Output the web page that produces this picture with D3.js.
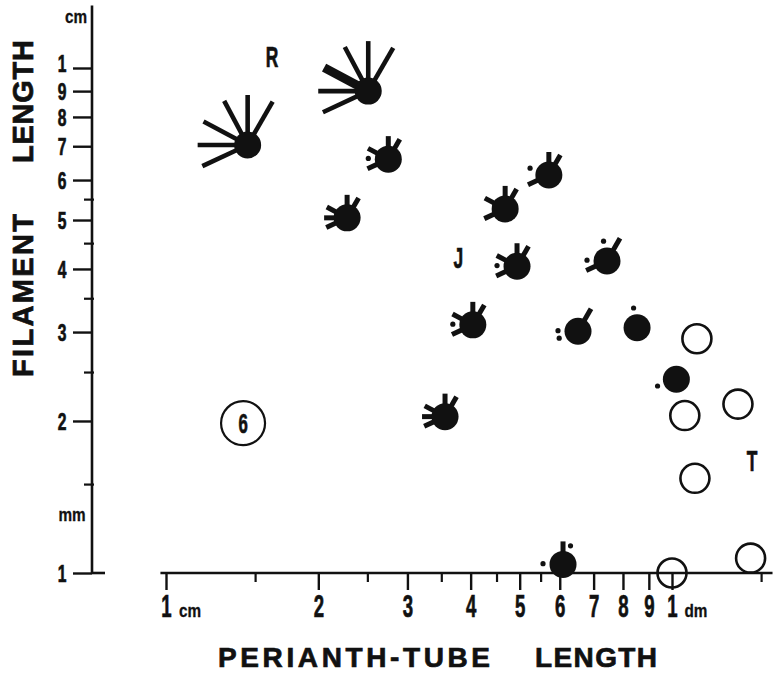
<!DOCTYPE html>
<html><head><meta charset="utf-8">
<script src="https://cdn.jsdelivr.net/npm/d3@7/dist/d3.min.js"></script>
<style>
html,body{margin:0;padding:0;background:#fff;}
svg{display:block;}
text{font-family:"Liberation Sans","Roboto",sans-serif;font-weight:bold;fill:#111;stroke:#111;stroke-width:0.7px;}
</style></head>
<body>
<svg id="chart" width="774" height="674"></svg>
<script>
// ---- data ----
// perianth-tube length (cm) and filament length (mm) for each population
const filledX = [1.45, 2.51, 2.75, 2.28, 5.71, 4.68, 4.94, 7.44, 6.52, 8.53, 4.04, 3.56, 10.2, 6.09];
const filledY = [7.04, 9.0, 6.6, 5.05, 6.14, 5.26, 4.05, 4.15, 3.01, 3.06, 3.10, 2.04, 2.42, 1.04];
// glyph character states: 0 none, 1 dot, 2 short ray, 2.5 medium ray, 3 long ray, 4 long thick ray
const rayUp        = [3, 3, 2, 2, 2, 2, 2, 1, 0, 1, 2, 2, 0, 2];
const rayUpRight   = [3, 3, 2, 2, 2, 2, 2, 2.5, 2.5, 0, 2, 2, 0, 1];
const rayUpLeft    = [3, 3, 0, 0, 0, 0, 0, 0, 0, 0, 0, 0, 0, 0];
const rayLeftHigh  = [3, 4, 2, 2, 1, 2, 2, 0, 0, 0, 2, 2, 0, 0];
const rayLeft      = [3, 3, 1, 2, 0, 0, 1, 1, 1, 0, 1, 2, 0, 1];
const rayLeftLow   = [3, 3, 2, 2, 2, 2, 2, 2, 1, 0, 2, 2, 1, 0];

const openX = [11.2, 10.6, 13.5, 11.1, 10.0, 14.3];
const openY = [2.91, 2.05, 2.16, 1.54, 1.0, 1.07];

const groupLabels = ["R", "J", "T"];
const groupX = [1.62, 3.78, 14.4];
const groupY = [10.5, 4.2, 1.67];

const sampleLabel = "6";
const sampleX = 1.42, sampleY = 1.98;

const xTicks = [1, 2, 3, 4, 5, 6, 7, 8, 9, 10];
const xTickLabels = ["1", "2", "3", "4", "5", "6", "7", "8", "9", "1"];
const xMinor = [1.5, 2.5, 3.5, 4.5, 5.5, 15];
const yTicks = [1, 2, 3, 4, 5, 6, 7, 8, 9, 10];
const yTickLabels = ["1", "2", "3", "4", "5", "6", "7", "8", "9", "1"];
const yMinor = [1.5, 2.5, 3.5, 4.5, 5.5];

// ---- drawing ----
const svg = d3.select("#chart");
const x = d3.scaleLog().domain([1, 10]).range([166, 672]);
const y = d3.scaleLog().domain([1, 10]).range([573, 68]);
const ink = "#111";
const SX = 0.6; // horizontal condensing of the lettering

function narrow(parent, tx, ty, str, size, anchor, sx) {
  return parent.append("text")
    .attr("transform", `translate(${tx},${ty}) scale(${sx || SX},1)`)
    .attr("text-anchor", anchor || "middle").attr("font-size", size).text(str);
}

// X axis
const xAxis = svg.append("g").attr("transform", `translate(0,${y(1)})`)
  .call(d3.axisBottom(x).tickValues(xTicks).tickSize(17).tickPadding(5)
        .tickFormat((d, i) => xTickLabels[i]));
xAxis.select(".domain").remove();
xAxis.attr("font-family", null).attr("font-size", null);
xAxis.selectAll(".tick line").attr("stroke", ink).attr("stroke-width", 2.4);
xAxis.selectAll(".tick text").attr("font-size", 31).attr("fill", ink)
  .attr("transform", `scale(${SX},1)`);
svg.append("line").attr("x1", x(0.975)).attr("x2", x(15.8)).attr("y1", y(1)).attr("y2", y(1))
  .attr("stroke", ink).attr("stroke-width", 2.6);
const xMin = svg.append("g").attr("transform", `translate(0,${y(1)})`)
  .call(d3.axisBottom(x).tickValues(xMinor).tickSize(9).tickFormat(""));
xMin.select(".domain").remove();
xMin.selectAll(".tick line").attr("stroke", ink).attr("stroke-width", 2.2);

// Y axis
const yAxis = svg.append("g").attr("transform", "translate(92,0)")
  .call(d3.axisLeft(y).tickValues(yTicks).tickSize(19).tickPadding(10)
        .tickFormat((d, i) => yTickLabels[i]));
yAxis.select(".domain").remove();
yAxis.attr("font-family", null).attr("font-size", null);
yAxis.selectAll(".tick line").attr("stroke", ink).attr("stroke-width", 2.4);
yAxis.selectAll(".tick text").attr("font-size", 23).attr("fill", ink)
  .attr("text-anchor", "middle").attr("x", -30 / SX).attr("dy", "0.36em")
  .attr("transform", `scale(0.68,1)`).attr("x", -30 / 0.68);
yAxis.selectAll(".tick").filter(d => d === 10).select("text").attr("dy", "0.14em");
svg.append("line").attr("x1", 92).attr("x2", 92).attr("y1", y(1) + 1).attr("y2", y(13.3))
  .attr("stroke", ink).attr("stroke-width", 2.6);
svg.append("line").attr("x1", 92).attr("x2", 105).attr("y1", y(1)).attr("y2", y(1))
  .attr("stroke", ink).attr("stroke-width", 2.6);
const yMin = svg.append("g").attr("transform", "translate(94,0)")
  .call(d3.axisLeft(y).tickValues(yMinor).tickSize(10).tickFormat(""));
yMin.select(".domain").remove();
yMin.selectAll(".tick line").attr("stroke", ink).attr("stroke-width", 2.2);

// unit labels
narrow(svg, 76, 23, "cm", 18, "middle", 0.85).style("stroke-width", "0.3px");
narrow(svg, 72, 521, "mm", 18, "middle", 0.85).style("stroke-width", "0.3px");
narrow(svg, x(1) + 24, 617, "cm", 18, "middle", 0.85).style("stroke-width", "0.3px");
narrow(svg, x(10) + 24, 617, "dm", 18, "middle", 0.85).style("stroke-width", "0.3px");

// axis titles
svg.append("text").attr("x", 218).attr("y", 667).attr("font-size", 28)
  .attr("textLength", 272).attr("lengthAdjust", "spacing").text("PERIANTH-TUBE");
svg.append("text").attr("x", 535).attr("y", 667).attr("font-size", 28)
  .attr("textLength", 122).attr("lengthAdjust", "spacing").text("LENGTH");
const yt = svg.append("g").attr("transform", "translate(33,0) rotate(-90)");
yt.append("text").attr("x", -377).attr("y", 0).attr("font-size", 29)
  .attr("textLength", 163).attr("lengthAdjust", "spacing").text("FILAMENT");
yt.append("text").attr("x", -163).attr("y", 0).attr("font-size", 29)
  .attr("textLength", 123).attr("lengthAdjust", "spacing").text("LENGTH");

// glyphs
const slots = [
  {vals: rayUp,       ang: 90,  dotAng: 100},
  {vals: rayUpRight,  ang: 60,  dotAng: 68},
  {vals: rayUpLeft,   ang: 118, dotAng: 118},
  {vals: rayLeftHigh, ang: 152, dotAng: 160},
  {vals: rayLeft,     ang: 180, dotAng: 178},
  {vals: rayLeftLow,  ang: 205, dotAng: 200}
];
const rayLen = {2: 23, 2.5: 26, 3: 50, 4: 50};
const rayW = {2: 5, 2.5: 5, 3: 4.6, 4: 9};
const R = 13.5;

const pts = filledX.map((v, i) => ({x: v, y: filledY[i], i}));
const g = svg.append("g");
pts.forEach(p => {
  const cx = x(p.x), cy = y(p.y);
  const gg = g.append("g");
  slots.forEach(s => {
    const v = s.vals[p.i];
    if (v >= 2) {
      const a = s.ang * Math.PI / 180, L = rayLen[v];
      gg.append("line").attr("x1", cx).attr("y1", cy)
        .attr("x2", cx + L * Math.cos(a)).attr("y2", cy - L * Math.sin(a))
        .attr("stroke", ink).attr("stroke-width", rayW[v]);
    } else if (v === 1) {
      const a = s.dotAng * Math.PI / 180, L = 20;
      gg.append("circle").attr("cx", cx + L * Math.cos(a)).attr("cy", cy - L * Math.sin(a))
        .attr("r", 2.6).attr("fill", ink);
    }
  });
  gg.append("circle").attr("cx", cx).attr("cy", cy).attr("r", R).attr("fill", ink);
});

// open circles
svg.append("g").selectAll("circle").data(openX.map((v, i) => [v, openY[i]])).join("circle")
  .attr("cx", d => x(d[0])).attr("cy", d => y(d[1])).attr("r", 14.5)
  .attr("fill", "none").attr("stroke", ink).attr("stroke-width", 2.6);

// sample-size circle
svg.append("circle").attr("cx", x(sampleX)).attr("cy", y(sampleY)).attr("r", 22)
  .attr("fill", "none").attr("stroke", ink).attr("stroke-width", 2.2);
narrow(svg, x(sampleX), y(sampleY) + 10, sampleLabel, 28);

// group labels
groupLabels.forEach((t, i) => narrow(svg, x(groupX[i]), y(groupY[i]) + 10, t, 29));
</script>
</body></html>
